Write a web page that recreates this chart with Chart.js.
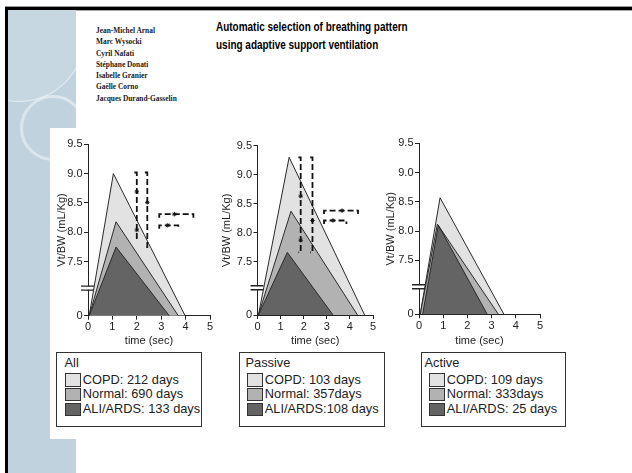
<!DOCTYPE html>
<html>
<head>
<meta charset="utf-8">
<script src="https://cdn.jsdelivr.net/npm/chart.js@4.4.1/dist/chart.umd.min.js"></script>
<style>
  body { margin: 0; background: #fff; width: 632px; height: 473px; overflow: hidden; position: relative; font-family: "Liberation Sans", Arial, sans-serif; }
  .abs { position: absolute; }
  #frameTop { left: 5px; top: 7px; width: 627px; height: 3px; background: #000; box-shadow: 0 -1px 0 #999, 0 1px 0 #aaa; }
  #frameLeft { left: 5px; top: 7px; width: 3px; height: 466px; background: #000; }
  #strip { left: 8px; top: 10px; width: 68px; height: 463px; background: #c0d2de; overflow: hidden; }
  .ring { position: absolute; border-radius: 50%; }
  #panel { left: 50px; top: 128px; width: 540px; height: 311px; background: #fff; }
  #authors { left: 96px; top: 25px; font-family: "Liberation Serif", "Times New Roman", serif; font-weight: bold; font-size: 8.5px; line-height: 11.3px; color: #1a1a1a; transform: scaleX(0.87); transform-origin: left top; white-space: nowrap; }
  #title { left: 216px; top: 17.5px; font-family: "Liberation Sans", Arial, sans-serif; font-weight: bold; font-size: 13.5px; line-height: 18.5px; color: #000; transform-origin: left top; white-space: nowrap; }
  .legend { position: absolute; border: 1.5px solid #333; background: #fff; box-sizing: border-box; font-size: 12.8px; color: #222; }
  .legend span { position: absolute; white-space: nowrap; line-height: 14px; }
  .sw { position: absolute; width: 16px; height: 13.5px; box-sizing: border-box; border: 1.5px solid #333; }
</style>
</head>
<body>
<div id="frameTop" class="abs"></div>
<div id="strip" class="abs">
  <div class="ring" style="left:-55px;top:-40px;width:130px;height:130px;border:1.5px solid rgba(255,255,255,0.5);background:rgba(255,255,255,0.12);"></div>
  <div class="ring" style="left:12px;top:85px;width:60px;height:60px;border:3px solid rgba(255,255,255,0.45);"></div>
</div>
<div id="frameLeft" class="abs"></div>
<div id="panel" class="abs"></div>
<div id="authors" class="abs">Jean-Michel Arnal<br>Marc Wysocki<br>Cyril Nafati<br>Stéphane Donati<br>Isabelle Granier<br>Gaëlle Corno<br>Jacques Durand-Gasselin</div>
<div id="title" class="abs">Automatic selection of breathing pattern<br>using adaptive support ventilation</div>

<script>
// data
const panelTitles = ['All', 'Passive', 'Active'];
const groups = ['COPD', 'Normal', 'ALI/ARDS'];
const legendLabels = [
  ['COPD: 212 days', 'Normal: 690 days', 'ALI/ARDS: 133 days'],
  ['COPD: 103 days', 'Normal: 357days', 'ALI/ARDS:108 days'],
  ['COPD: 109 days', 'Normal: 333days', 'ALI/ARDS: 25 days']
];
// breath triangle per group: start time, peak time, peak Vt/BW, end time
const startTime = [[0.05, 0.05, 0.05], [0.04, 0.04, 0.04], [0.05, 0.05, 0.15]];
const peakTime  = [[1.04, 1.15, 1.15], [1.37, 1.45, 1.29], [0.87, 0.76, 0.80]];
const peakVt    = [[9.00, 8.18, 7.75], [9.30, 8.37, 7.66], [8.57, 8.12, 8.10]];
const endTime   = [[3.98, 3.70, 3.33], [4.64, 4.33, 3.27], [3.51, 3.28, 2.82]];
// significance brackets: vertical [time, top, bottom], horizontal [vt, from, to]
const vBrackets = [[[2.00, 9.02, 7.90], [2.43, 9.02, 7.75]], [[1.87, 9.30, 7.66], [2.38, 9.30, 7.66]], []];
const hBrackets = [[[8.31, 2.92, 4.32], [8.12, 2.92, 3.70]], [[8.38, 2.88, 4.35], [8.21, 2.88, 3.85]], []];
const stars = [
  [[2.00, 8.69], [2.00, 8.04], [2.43, 8.51], [3.54, 8.31], [3.27, 8.12]],
  [[1.87, 8.63], [1.87, 7.87], [2.38, 8.21], [3.66, 8.38], [3.27, 8.21]],
  []
];
const xTicks = [0, 1, 2, 3, 4, 5];
const yTicks = [0, 7.5, 8.0, 8.5, 9.0, 9.5];

// broken axis: 0 sits at the foot, the break mark just below 7.5
const Y_ZERO = 6.58;
const Y_BREAK = 7.05;
const axisY = v => (v === 0 ? Y_ZERO : v);

const fills = ['#e2e2e2', '#b2b2b2', '#646464'];
const ink = '#222';

// squeeze the heading to the condensed width of the original
const titleEl = document.getElementById('title');
titleEl.style.transform = `scaleX(${192 / titleEl.offsetWidth})`;

// canvas layout per panel
const layout = [
  { left: 51,  width: 167, padTop: 14.3, yW: 37,   xH: 34.3, legLeft: 56,    legW: 146,   titleX: 9,   swX: 9.3 },
  { left: 216, width: 165, padTop: 15.7, yW: 41.5, xH: 35,   legLeft: 239.3, legW: 145.7, titleX: 6.7, swX: 8 },
  { left: 380, width: 168, padTop: 13.3, yW: 39,   xH: 35.7, legLeft: 420.7, legW: 145.3, titleX: 4.3, swX: 8.6 }
];

const axisBreak = {
  id: 'axisBreak',
  afterDraw(chart) {
    const ctx = chart.ctx;
    const py = chart.scales.y.getPixelForValue(Y_BREAK);
    const x = chart.chartArea.left;
    ctx.save();
    ctx.fillStyle = '#fff';
    ctx.fillRect(x - 2, py - 1.5, 4, 3);
    ctx.strokeStyle = ink;
    ctx.lineWidth = 1.4;
    ctx.beginPath();
    ctx.moveTo(x - 7, py - 2); ctx.lineTo(x + 6, py - 2);
    ctx.moveTo(x - 7, py + 2); ctx.lineTo(x + 6, py + 2);
    ctx.stroke();
    ctx.restore();
  }
};

panelTitles.forEach((title, p) => {
  const L = layout[p];
  const canvas = document.createElement('canvas');
  canvas.width = L.width;
  canvas.height = 220;
  canvas.style.cssText = `position:absolute;left:${L.left}px;top:130px;width:${L.width}px;height:220px;`;
  document.body.appendChild(canvas);

  const datasets = groups.map((g, i) => ({
    label: g,
    data: [
      { x: startTime[p][i], y: axisY(0) },
      { x: peakTime[p][i], y: peakVt[p][i] },
      { x: endTime[p][i], y: axisY(0) }
    ],
    showLine: true,
    fill: 'start',
    backgroundColor: fills[i],
    borderColor: '#2a2a2a',
    borderWidth: 1,
    pointRadius: 0,
    order: 10 - i
  }));

  const bracketStyle = {
    showLine: true, fill: false, borderColor: '#111', borderWidth: 1.8,
    borderDash: [6, 3], pointRadius: 0, order: 0
  };
  vBrackets[p].forEach(([t, top, bot]) => {
    datasets.push(Object.assign({
      data: [{ x: t - 0.1, y: top }, { x: t, y: top }, { x: t, y: bot }, { x: t - 0.1, y: bot }]
    }, bracketStyle));
  });
  hBrackets[p].forEach(([v, a, b]) => {
    datasets.push(Object.assign({
      data: [{ x: a, y: v - 0.06 }, { x: a, y: v }, { x: b, y: v }, { x: b, y: v - 0.06 }]
    }, bracketStyle));
  });
  if (stars[p].length) {
    datasets.push({
      data: stars[p].map(([x, y]) => ({ x, y })),
      showLine: false, pointStyle: 'star', pointRadius: 2.2,
      borderColor: '#111', borderWidth: 1, backgroundColor: '#111', order: 0
    });
  }

  new Chart(canvas.getContext('2d'), {
    type: 'scatter',
    data: { datasets },
    options: {
      responsive: false,
      animation: false,
      events: [],
      layout: { padding: { top: L.padTop, right: 8, left: 0, bottom: 0 } },
      plugins: { legend: { display: false }, tooltip: { enabled: false } },
      scales: {
        x: {
          type: 'linear', min: 0, max: 5,
          afterBuildTicks: s => { s.ticks = xTicks.map(v => ({ value: v })); },
          afterFit: s => { s.height = L.xH; },
          grid: { drawOnChartArea: false, tickLength: 4, color: ink },
          border: { color: ink, width: 1 },
          ticks: { font: { size: 11 }, color: ink, padding: 1, maxRotation: 0, autoSkip: false },
          title: { display: true, text: 'time (sec)', font: { size: 11 }, color: ink, padding: { top: 0, bottom: 2 } }
        },
        y: {
          type: 'linear', min: Y_ZERO, max: 9.5,
          afterBuildTicks: s => { s.ticks = yTicks.map(v => ({ value: axisY(v) })); },
          afterFit: s => { s.width = L.yW; },
          grid: { drawOnChartArea: false, tickLength: 4, color: ink },
          border: { color: ink, width: 1 },
          ticks: {
            font: { size: 11 }, color: ink, padding: 1.5, autoSkip: false,
            callback: v => (v === Y_ZERO ? '0' : v.toFixed(1))
          },
          title: { display: true, text: 'Vt/BW (mL/Kg)', font: { size: 11 }, color: ink, padding: { top: 4, bottom: 0 } }
        }
      }
    },
    plugins: [axisBreak]
  });

  // legend box
  const box = document.createElement('div');
  box.className = 'legend';
  box.style.cssText = `left:${L.legLeft}px;top:351.7px;width:${L.legW}px;height:75px;`;
  const t = document.createElement('span');
  t.textContent = title;
  t.style.cssText = `left:${L.titleX - 1.5}px;top:${11.6 - 7 - 1.5}px;`;
  box.appendChild(t);
  legendLabels[p].forEach((txt, i) => {
    const cy = [29, 43.3, 58.3][i] - 1.5;
    const sw = document.createElement('div');
    sw.className = 'sw';
    sw.style.cssText = `left:${L.swX - 1.5}px;top:${cy - 6.75}px;background:${fills[i]};`;
    box.appendChild(sw);
    const s = document.createElement('span');
    s.textContent = txt;
    s.style.cssText = `left:${L.swX - 1.5 + 18}px;top:${cy - 7}px;`;
    box.appendChild(s);
  });
  document.body.appendChild(box);
});
</script>
</body>
</html>
